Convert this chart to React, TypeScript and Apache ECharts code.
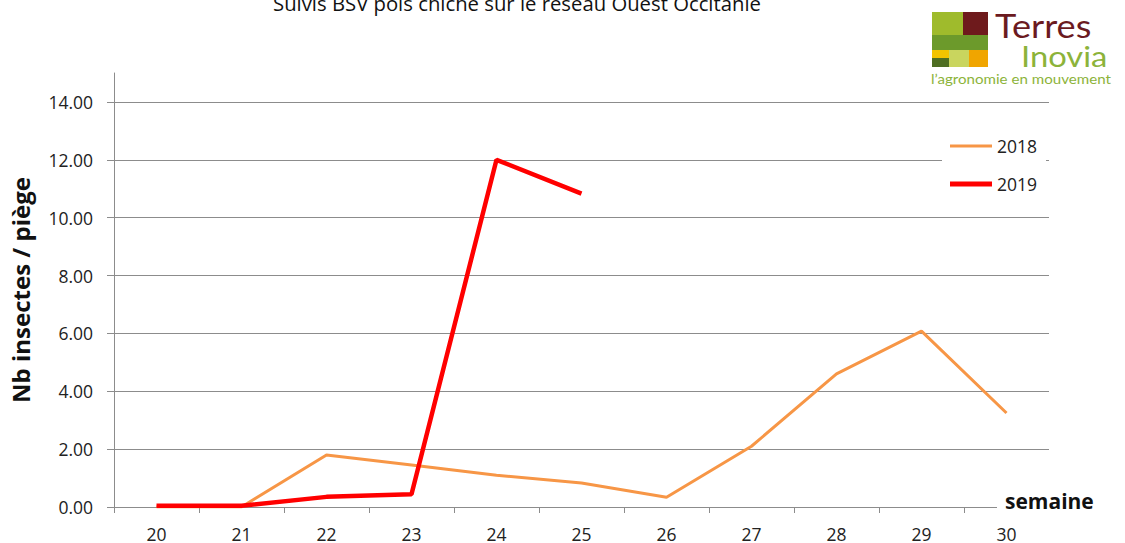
import React, { useEffect, useRef } from "react";
import * as echarts from "echarts";

const weeks = ["20", "21", "22", "23", "24", "25", "26", "27", "28", "29", "30"];
const s2018 = [0, 0, 1.8, 1.45, 1.1, 0.83, 0.34, 2.1, 4.6, 6.08, 3.25];
const s2019 = [0.04, 0.04, 0.35, 0.44, 12.0, 10.83, null, null, null, null, null];
const yTicks = [0, 2, 4, 6, 8, 10, 12, 14];
const seriesNames = ["2018", "2019"];
const titleText = "Suivis BSV pois chiche sur le réseau Ouest Occitanie";
const yName = "Nb insectes / piège";
const xName = "semaine";

const FONT = "'Open Sans', 'Liberation Sans', sans-serif";
const C2018 = "#f79646";
const C2019 = "#ff0000";

export default function App() {
  const ref = useRef<HTMLDivElement>(null);
  useEffect(() => {
    if (!ref.current) return;
    const chart = echarts.init(ref.current, null, { renderer: "svg" });
    const gridColors = yTicks.map(() => "#8c8c8c").concat(["rgba(0,0,0,0)"]);
    chart.setOption({
      animation: false,
      backgroundColor: "#ffffff",
      textStyle: { fontFamily: FONT },
      grid: { left: 114, right: 76, top: 73, bottom: 36, containLabel: false, outerBoundsMode: "none" },
      legend: {
        orient: "vertical",
        left: 942,
        top: 128,
        padding: [8, 9, 8, 8],
        backgroundColor: "#ffffff",
        itemWidth: 42,
        itemHeight: 14,
        itemGap: 18,
        textStyle: { fontFamily: FONT, fontSize: 17.5, color: "#222", lineHeight: 20 },
        data: [
          { name: seriesNames[0], icon: "path://M0,0H42V3H0Z" },
          { name: seriesNames[1], icon: "path://M0,0H42V5H0Z" },
        ],
      },
      xAxis: {
        type: "category",
        data: weeks,
        boundaryGap: true,
        axisLine: { lineStyle: { color: "#8c8c8c", width: 1 } },
        axisTick: { show: true, length: 6, lineStyle: { color: "#8c8c8c" } },
        axisLabel: { fontFamily: FONT, fontSize: 17.5, color: "#222", margin: 17.5, lineHeight: 18 },
      },
      yAxis: {
        type: "value",
        min: 0,
        max: 15,
        interval: 2,
        axisLine: { show: true, lineStyle: { color: "#8c8c8c", width: 1 } },
        axisTick: { show: true, length: 7, customValues: yTicks, lineStyle: { color: "#8c8c8c" } },
        axisLabel: {
          customValues: yTicks,
          fontFamily: FONT,
          fontSize: 17.5,
          color: "#222",
          margin: 21,
          formatter: (v: number) => (v > 14 ? "" : v.toFixed(2)),
        },
        splitLine: { show: true, lineStyle: { color: gridColors, width: 1 } },
        name: yName,
        nameLocation: "middle",
        nameGap: 82,
        nameRotate: 90,
        nameTextStyle: { fontFamily: FONT, fontWeight: "bold", fontSize: 24, color: "#111" },
      },
      series: [
        {
          name: seriesNames[0],
          type: "line",
          data: s2018,
          symbol: "none",
          lineStyle: { color: C2018, width: 3 },
          itemStyle: { color: C2018 },
        },
        {
          name: seriesNames[1],
          type: "line",
          data: s2019,
          symbol: "none",
          lineStyle: { color: C2019, width: 4.5 },
          itemStyle: { color: C2019 },
        },
      ],
      graphic: [
        {
          type: "text",
          style: {
            text: titleText,
            x: 517,
            y: 3,
            align: "center",
            verticalAlign: "middle",
            fontFamily: FONT,
            fontSize: 20.3,
            fill: "#111",
          },
        },
        {
          type: "text",
          z: 100,
          style: {
            text: xName,
            x: 997,
            y: 501,
            align: "left",
            verticalAlign: "middle",
            fontFamily: FONT,
            fontWeight: "bold",
            fontSize: 21,
            fill: "#111",
            backgroundColor: "#ffffff",
            padding: [5, 2, 5, 8],
          },
        },
        { type: "rect", shape: { x: 932, y: 12, width: 31, height: 23 }, style: { fill: "#9fbb2c" } },
        { type: "rect", shape: { x: 963, y: 12, width: 25, height: 23 }, style: { fill: "#6e1a1c" } },
        { type: "rect", shape: { x: 932, y: 35, width: 56, height: 15 }, style: { fill: "#6c9a2b" } },
        { type: "rect", shape: { x: 932, y: 50, width: 17, height: 8 }, style: { fill: "#f2c400" } },
        { type: "rect", shape: { x: 932, y: 58, width: 17, height: 9 }, style: { fill: "#4e6e22" } },
        { type: "rect", shape: { x: 949, y: 50, width: 20, height: 17 }, style: { fill: "#c9d55e" } },
        { type: "rect", shape: { x: 969, y: 50, width: 19, height: 17 }, style: { fill: "#f0a500" } },
        {
          type: "text",
          x: 995,
          y: 25,
          scaleX: 1.13,
          style: { text: "Terres", x: 0, y: 0, verticalAlign: "middle", fontFamily: "Lato, sans-serif", fontSize: 32, fill: "#6b1a1f" },
        },
        {
          type: "text",
          x: 1021,
          y: 56,
          scaleX: 1.13,
          style: { text: "Inovia", x: 0, y: 0, verticalAlign: "middle", fontFamily: "Lato, sans-serif", fontSize: 29, fill: "#8cb33a" },
        },
        {
          type: "text",
          x: 931,
          y: 79,
          scaleX: 1.12,
          style: { text: "l\u2019agronomie en mouvement", x: 0, y: 0, verticalAlign: "middle", fontFamily: "Lato, sans-serif", fontSize: 13.5, fill: "#8cb33a" },
        },
      ],
    });
    return () => chart.dispose();
  }, []);
  return <div ref={ref} style={{ position: "absolute", left: 0, top: 0, width: 1125, height: 543 }} />;
}
